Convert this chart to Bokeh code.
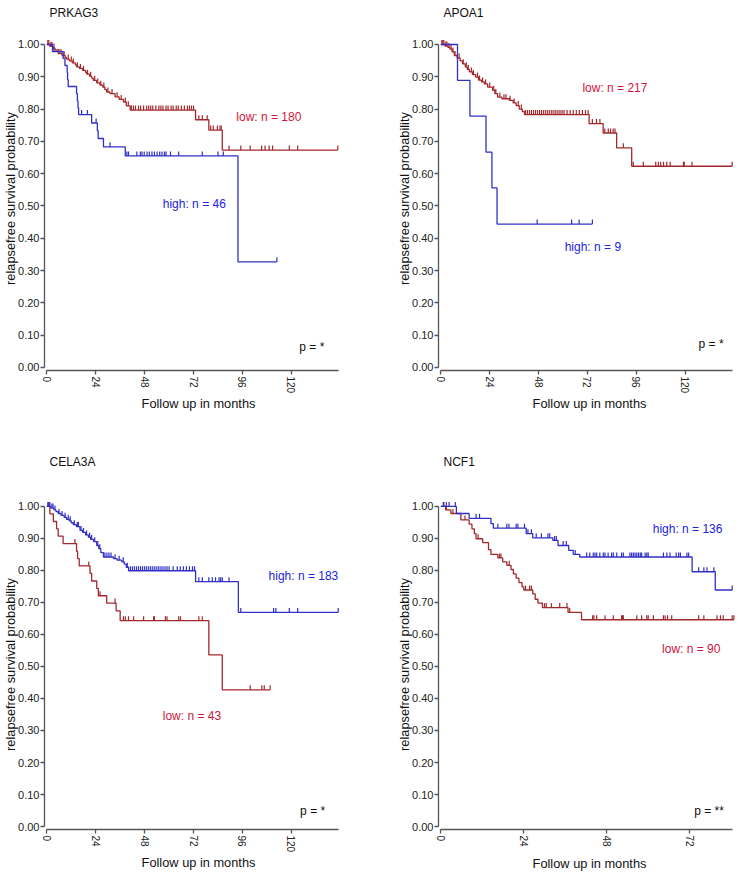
import math
from bokeh.plotting import figure
from bokeh.layouts import row, column
from bokeh.models import FixedTicker, NumeralTickFormatter, Range1d
from bokeh.core.properties import value
from bokeh.embed import file_html
from bokeh.resources import INLINE

FONT = "Liberation Sans"
RED_LINE = "#a3282c"
BLUE_LINE = "#3030c8"
RED_TEXT = "#d0143c"
BLUE_TEXT = "#2222dd"
AXIS_COLOR = "#555555"

# ---------------- data ----------------
y_ticks = [0.0, 0.1, 0.2, 0.3, 0.4, 0.5, 0.6, 0.7, 0.8, 0.9, 1.0]
x_ticks_long = [0, 24, 48, 72, 96, 120]
x_ticks_short = [0, 24, 48, 72]
x_axis_max_long = 143
x_axis_max_short = 84.3

# PRKAG3
prkag3_low_t = [1.5, 3, 4, 5.6, 7.5, 9, 9.7, 11, 12.5, 14, 14.6, 16, 17.5, 19, 19.6, 21, 22, 22.8, 24.5, 26.1,
                27.5, 28.5, 29.4, 31, 33.5, 35.5, 37.6, 39, 40.9, 73, 79.5, 86.1]
prkag3_low_s = [0.994, 0.989, 0.983, 0.972, 0.966, 0.960, 0.955, 0.949, 0.943, 0.937, 0.931, 0.926, 0.920, 0.914,
                0.908, 0.902, 0.896, 0.889, 0.881, 0.874, 0.868, 0.860, 0.853, 0.848, 0.838, 0.830, 0.822, 0.810,
                0.797, 0.767, 0.735, 0.673]
prkag3_low_c = [0.5, 1, 2, 2.5, 3.5, 6, 7, 8.5, 10.5, 12, 13, 15, 16.5, 18, 20, 21.5, 23.5, 25, 26.5, 28, 30, 32,
                34.5, 36.5, 38.5, 40, 41.5, 42.5, 43.5, 45, 46, 47.5, 49, 50, 51, 52, 53.5, 55, 56, 57, 58.5, 59.5,
                61, 62, 63.5, 64.5, 66, 67.5, 69, 70, 71, 72, 74.6, 76.3, 78.7, 80.4, 81.7, 83.7, 85, 85.6, 89.4,
                95.2, 99.8, 105.4, 107.1, 109.1, 110.8, 119, 123.1, 142.8]
prkag3_high_t = [2.8, 8.0, 8.9, 10.0, 10.2, 10.5, 14.6, 15.0, 15.3, 15.6, 22.0, 24.8, 25.2, 27.8, 38.5, 93.8]
prkag3_high_s = [0.978, 0.957, 0.935, 0.913, 0.891, 0.870, 0.848, 0.826, 0.804, 0.783, 0.757, 0.733, 0.709, 0.683,
                 0.655, 0.327]
prkag3_high_c = [3.5, 17.1, 19.9, 24.2, 31, 39.3, 40.1, 44.2, 45.9, 46.7, 47.8, 49.2, 50.3, 51.6, 52.8, 54.1, 55.4,
                 56.5, 57.7, 58.5, 60.7, 64.7, 76.3, 84, 86.6, 112.9]

# APOA1
apoa1_low_t = [2, 3.5, 4.5, 5.5, 6.6, 8, 9.5, 10.7, 12, 13, 14, 15.5, 17.1, 18.5, 20, 21.4, 23, 25.4, 26.5, 27.9,
               30, 33.7, 35.5, 37, 38.5, 40, 41.1, 72.8, 79.7, 86.3, 93.7]
apoa1_low_s = [0.995, 0.991, 0.986, 0.977, 0.966, 0.958, 0.949, 0.940, 0.931, 0.923, 0.915, 0.907, 0.899, 0.890,
               0.884, 0.878, 0.868, 0.858, 0.848, 0.837, 0.832, 0.827, 0.819, 0.811, 0.800, 0.792, 0.783, 0.755,
               0.726, 0.680, 0.623]
apoa1_low_c = [0.5, 1, 1.5, 2.5, 3, 4, 5, 6, 7, 9, 11, 12.5, 13.5, 15, 16, 18, 19, 20.5, 22, 24, 26, 27, 29, 31, 32,
               34, 36, 38, 39.5, 41.5, 42.5, 43.5, 44.5, 45.5, 46.5, 47.5, 48.5, 49.5, 50.5, 51.5, 52.5, 53.5, 54.5,
               55.5, 56.5, 57.5, 58.5, 59.5, 60.5, 62, 63.5, 65, 66.5, 68, 69.5, 71, 72.3, 74.4, 76.4, 78.1, 80.5,
               82.2, 83.3, 84.6, 85.5, 89.6, 94.5, 99.4, 105.5, 106.8, 107.9, 109.3, 110.9, 112.6, 119.1, 119.5,
               123.3, 143]
apoa1_high_t = [8.2, 14.3, 22.2, 25.1, 27.6]
apoa1_high_s = [0.889, 0.778, 0.667, 0.556, 0.444]
apoa1_high_c = [47.3, 64.2, 67.9, 74.4]

# CELA3A
cela3a_high_t = [2, 3.5, 4.5, 5.6, 7, 8.5, 9.7, 11, 12, 13, 14.5, 16.3, 17.5, 19, 20.4, 21.5, 23, 24.5, 25.5, 26.5,
                 27.8, 32.7, 34.5, 36.8, 38, 39, 40.1, 73, 94]
cela3a_high_s = [0.995, 0.989, 0.984, 0.978, 0.972, 0.966, 0.960, 0.955, 0.949, 0.943, 0.937, 0.925, 0.919, 0.911,
                 0.904, 0.897, 0.890, 0.878, 0.868, 0.856, 0.842, 0.837, 0.832, 0.827, 0.820, 0.810, 0.799, 0.765,
                 0.669]
cela3a_high_c = [0.5, 1, 1.5, 2.5, 3, 4, 6, 7.5, 9, 10.5, 11.5, 13.5, 15, 15.5, 16.8, 18, 19.5, 21, 22, 23.5, 25, 26,
                 28.5, 29.5, 30.5, 31.5, 33.5, 35.5, 37.5, 39.5, 41, 42, 43, 44, 45, 46, 47, 48, 49, 50, 51, 52, 53,
                 54, 55, 56, 57, 58, 59, 60, 62, 64, 65.5, 67, 68.5, 70, 71.5, 72.5, 74.6, 76.3, 79.5, 81.2, 82.8,
                 84.5, 85.3, 86.1, 89.4, 95.2, 111.3, 112.4, 119, 123.1, 143]
cela3a_low_t = [1.5, 3.2, 4.8, 5.6, 8.0, 14.6, 15.1, 15.9, 21.2, 22.0, 24.5, 25.3, 29.4, 34.0, 36.0, 79.5, 86.1]
cela3a_low_s = [0.977, 0.953, 0.930, 0.907, 0.884, 0.860, 0.837, 0.814, 0.791, 0.767, 0.744, 0.721, 0.698, 0.674,
                0.643, 0.536, 0.427]
cela3a_low_c = [1.0, 13.8, 20.6, 26.1, 33.5, 37.6, 38.5, 40.1, 42.6, 47.5, 52.4, 52.8, 58.2, 59, 64.7, 65.6, 74.6,
                76.3, 99.8, 105.5, 106.7, 109.6]

# NCF1
ncf1_high_t = [4.5, 8.2, 14.5, 15.2, 24.7, 26.6, 32.4, 33.9, 37.0, 38.3, 40.2, 72.7, 79.4]
ncf1_high_s = [0.978, 0.963, 0.946, 0.932, 0.915, 0.902, 0.894, 0.878, 0.863, 0.850, 0.842, 0.796, 0.739]
ncf1_high_c = [0.7, 1.6, 2.4, 4.2, 10.2, 11.2, 16.5, 19.1, 19.7, 21.8, 22.3, 24.2, 25.2, 26.2, 27.6, 29.1, 31.0,
               31.5, 32.9, 33.4, 35.4, 36.3, 38.9, 42.2, 43.1, 44.1, 44.6, 45.1, 46.0, 47.0, 47.5, 48.4, 49.4, 49.9,
               50.9, 52.3, 52.8, 54.7, 55.2, 55.7, 56.2, 56.7, 57.2, 57.7, 58.1, 59.1, 59.6, 60.0, 64.4, 65.4, 66.3,
               68.1, 68.8, 69.3, 71.2, 71.7, 74.6, 76.1, 77.0, 79.0, 84.3]
ncf1_low_t = [1.4, 2.9, 5.8, 8.2, 9.0, 9.7, 10.2, 12.1, 13.8, 14.5, 16.5, 17.9, 19.1, 20.3, 21.0, 21.8, 22.6, 23.5,
              24.0, 26.6, 27.3, 28.1, 29.4, 36.8, 40.7]
ncf1_low_s = [0.989, 0.978, 0.958, 0.945, 0.930, 0.915, 0.899, 0.887, 0.865, 0.850, 0.839, 0.827, 0.816, 0.803,
              0.789, 0.776, 0.762, 0.749, 0.739, 0.727, 0.710, 0.698, 0.684, 0.669, 0.646]
ncf1_low_c = [0.9, 1.6, 3.5, 7.0, 10.8, 17.0, 17.4, 19.8, 24.5, 25.7, 26.2, 30.0, 30.5, 32.0, 34.4, 36.5, 37.3, 43.9,
              44.3, 45.1, 47.5, 49.9, 52.3, 52.6, 52.8, 56.7, 58.1, 59.6, 60.0, 61.5, 64.4, 64.9, 65.6, 66.8, 74.6,
              76.1, 79.9, 80.9, 81.7, 84.3, 84.8]

# annotation texts and positions (months, survival)
prkag3_notes = [("low: n = 180", 93.0, 0.775, RED_TEXT), ("high: n = 46", 56.9, 0.506, BLUE_TEXT),
                ("p = *", 123.9, 0.064, "#111111")]
apoa1_notes = [("low: n = 217", 69.5, 0.866, RED_TEXT), ("high: n = 9", 60.8, 0.374, BLUE_TEXT),
               ("p = *", 126.5, 0.073, "#111111")]
cela3a_notes = [("high: n = 183", 108.8, 0.782, BLUE_TEXT), ("low: n = 43", 56.9, 0.344, RED_TEXT),
                ("p = *", 124.3, 0.049, "#111111")]
ncf1_notes = [("high: n = 136", 61.3, 0.931, BLUE_TEXT), ("low: n = 90", 64.0, 0.554, RED_TEXT),
              ("p = **", 73.3, 0.049, "#111111")]

# ---------------- drawing ----------------
Y_START = -0.0093
TICK_LEN = 0.014
PX_PER_UNIT = 323.0


def surv_at(times, survs, t):
    s = 1.0
    for tt, ss in zip(times, survs):
        if tt <= t:
            s = ss
        else:
            break
    return s


def km_panel(title, width, height, top, bottom, right, title_standoff, x_start, x_end,
             x_ticks, x_axis_max, x_label_standoff, curves, notes):
    frame_h = height - top - bottom
    y_end = Y_START + frame_h / PX_PER_UNIT
    p = figure(width=width, height=height, x_range=Range1d(x_start, x_end), y_range=Range1d(Y_START, y_end),
               output_backend="svg", toolbar_location=None, title=title,
               min_border_left=0, min_border_right=right, min_border_top=top, min_border_bottom=bottom)
    p.title.text_font = FONT
    p.title.text_font_size = "12px"
    p.title.text_font_style = "normal"
    p.title.text_color = "#111111"
    p.title.align = "left"
    p.title.offset = 5
    p.title.standoff = title_standoff
    p.title.vertical_align = "top"
    p.outline_line_color = None
    p.background_fill_color = "white"
    p.border_fill_color = "white"
    p.xgrid.visible = False
    p.ygrid.visible = False

    for times, survs, censor, color in curves:
        end = max(censor + times)
        xs = [0] + times + [end]
        ys = [1.0] + survs + [survs[-1]]
        p.step(xs, ys, mode="after", line_color=color, line_width=1.3)
        cy = [surv_at(times, survs, t) for t in censor]
        p.segment(x0=censor, y0=cy, x1=censor, y1=[v + TICK_LEN for v in cy], line_color=color, line_width=1.2)

    for txt, x, y, color in notes:
        p.text(x=[x], y=[y], text=[txt], text_color=color, text_font=value(FONT), text_font_size="12px",
               text_align="left", text_baseline="alphabetic")

    xa = p.xaxis[0]
    xa.ticker = FixedTicker(ticks=x_ticks)
    xa.bounds = (0, x_axis_max)
    xa.major_label_orientation = -math.pi / 2
    xa.major_label_standoff = 2
    xa.major_label_text_font = FONT
    xa.major_label_text_font_size = "10px"
    xa.major_label_text_color = "#222222"
    xa.axis_label = "Follow up in months"
    xa.axis_label_text_font = FONT
    xa.axis_label_text_font_size = "12.8px"
    xa.axis_label_text_font_style = "normal"
    xa.axis_label_text_color = "#111111"
    xa.axis_label_standoff = x_label_standoff

    ya = p.yaxis[0]
    ya.ticker = FixedTicker(ticks=y_ticks)
    ya.formatter = NumeralTickFormatter(format="0.00")
    ya.bounds = (0, 1)
    ya.major_label_standoff = 1
    ya.major_label_text_font = FONT
    ya.major_label_text_font_size = "11px"
    ya.major_label_text_color = "#222222"
    ya.axis_label = "relapsefree survival probability"
    ya.axis_label_text_font = FONT
    ya.axis_label_text_font_size = "12.8px"
    ya.axis_label_text_font_style = "normal"
    ya.axis_label_text_color = "#111111"
    ya.axis_label_standoff = -3

    for ax in (xa, ya):
        ax.axis_line_color = AXIS_COLOR
        ax.axis_line_width = 1.3
        ax.major_tick_line_color = AXIS_COLOR
        ax.major_tick_line_width = 1.3
        ax.major_tick_out = 4
        ax.major_tick_in = 0
        ax.minor_tick_line_color = None
    return p


TOP_H = 425
BOT_H = 448
LEFT_W = 394
RIGHT_W = 346

p1 = km_panel("PRKAG3", LEFT_W, TOP_H, 26, 55, 42, 10, -1.13, 150, x_ticks_long, x_axis_max_long, 0,
              [(prkag3_low_t, prkag3_low_s, prkag3_low_c, RED_LINE),
               (prkag3_high_t, prkag3_high_s, prkag3_high_c, BLUE_LINE)], prkag3_notes)
p2 = km_panel("APOA1", RIGHT_W, TOP_H, 26, 55, 0, 10, -1.13, 147.1, x_ticks_long, x_axis_max_long, 0,
              [(apoa1_low_t, apoa1_low_s, apoa1_low_c, RED_LINE),
               (apoa1_high_t, apoa1_high_s, apoa1_high_c, BLUE_LINE)], apoa1_notes)
p3 = km_panel("CELA3A", LEFT_W, BOT_H, 74, 41, 42, 58, -1.13, 150, x_ticks_long, x_axis_max_long, 0,
              [(cela3a_low_t, cela3a_low_s, cela3a_low_c, RED_LINE),
               (cela3a_high_t, cela3a_high_s, cela3a_high_c, BLUE_LINE)], cela3a_notes)
p4 = km_panel("NCF1", RIGHT_W, BOT_H, 74, 41, 0, 58, -0.67, 86.7, x_ticks_short, x_axis_max_short, 6,
              [(ncf1_low_t, ncf1_low_s, ncf1_low_c, RED_LINE),
               (ncf1_high_t, ncf1_high_s, ncf1_high_c, BLUE_LINE)], ncf1_notes)

layout = column(row(p1, p2, spacing=0), row(p3, p4, spacing=0), spacing=0)
open("out.html", "w").write(file_html(layout, INLINE))
